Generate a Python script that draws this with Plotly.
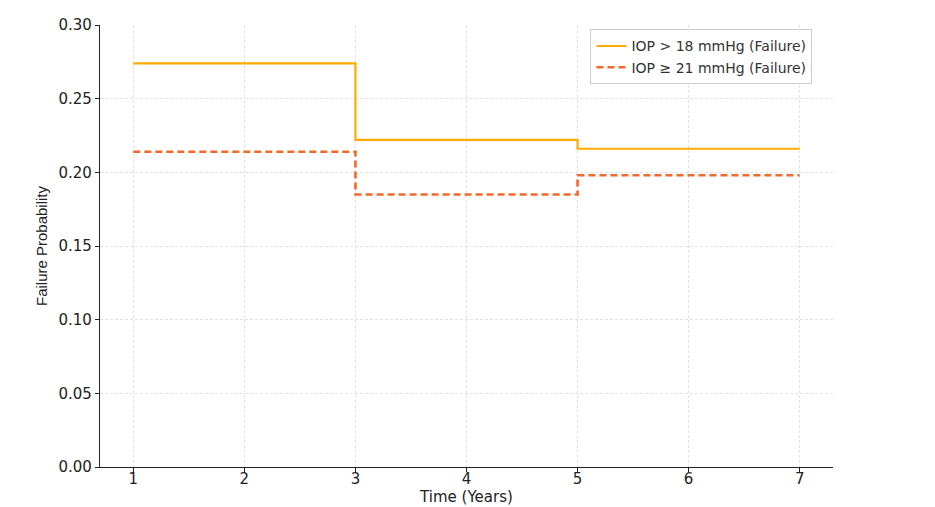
import plotly.graph_objects as go

# yearly failure probabilities (step function, value held until next year)
years = [1, 3, 5, 7]
fail_18 = [0.274, 0.222, 0.216, 0.216]
fail_21 = [0.214, 0.185, 0.198, 0.198]
series_names = ["IOP > 18 mmHg (Failure)", "IOP ≥ 21 mmHg (Failure)"]

fig = go.Figure()

fig.add_trace(
    go.Scatter(
        x=years,
        y=fail_18,
        mode="lines",
        line=dict(shape="hv", color="#FFAA00", width=2.2),
        name=series_names[0],
    )
)
fig.add_trace(
    go.Scatter(
        x=years,
        y=fail_21,
        mode="lines",
        line=dict(shape="hv", color="#F2692B", width=2.6, dash="7px,4px"),
        name=series_names[1],
    )
)

grid = dict(
    showgrid=True,
    gridcolor="#E2E2E2",
    griddash="3px,2px",
    gridwidth=0.8,
    zeroline=False,
    showline=True,
    linecolor="#222222",
    linewidth=1.3,
    ticks="outside",
    ticklen=4,
    tickcolor="#222222",
    tickfont=dict(family="DejaVu Sans", size=15, color="#222222"),
    automargin=False,
)

fig.update_xaxes(
    range=[0.7, 7.3],
    tickvals=[1, 2, 3, 4, 5, 6, 7],
    ticklabelstandoff=-6,
    title=dict(text="Time (Years)", font=dict(family="DejaVu Sans", size=15, color="#222222"), standoff=2),
    **grid,
)
fig.update_yaxes(
    range=[0, 0.30],
    tickvals=[0, 0.05, 0.10, 0.15, 0.20, 0.25, 0.30],
    tickformat=".2f",
    title=dict(text="Failure Probability", font=dict(family="Liberation Sans", size=15, color="#222222"), standoff=7),
    **grid,
)

fig.update_layout(
    width=935,
    height=507,
    plot_bgcolor="white",
    paper_bgcolor="white",
    margin=dict(l=100, r=102, t=25, b=40),
    legend=dict(
        x=0.972,
        y=0.99,
        xanchor="right",
        yanchor="top",
        bgcolor="rgba(255,255,255,0.9)",
        bordercolor="#CCCCCC",
        borderwidth=1,
        font=dict(family="DejaVu Sans", size=14, color="#333333"),
        tracegroupgap=0,
    ),
)

# drop the default page margin so the figure sits at the window corner
fig.write_html(
    "out.html",
    config={"displayModeBar": False},
    post_script="document.body.style.margin='0';",
)
